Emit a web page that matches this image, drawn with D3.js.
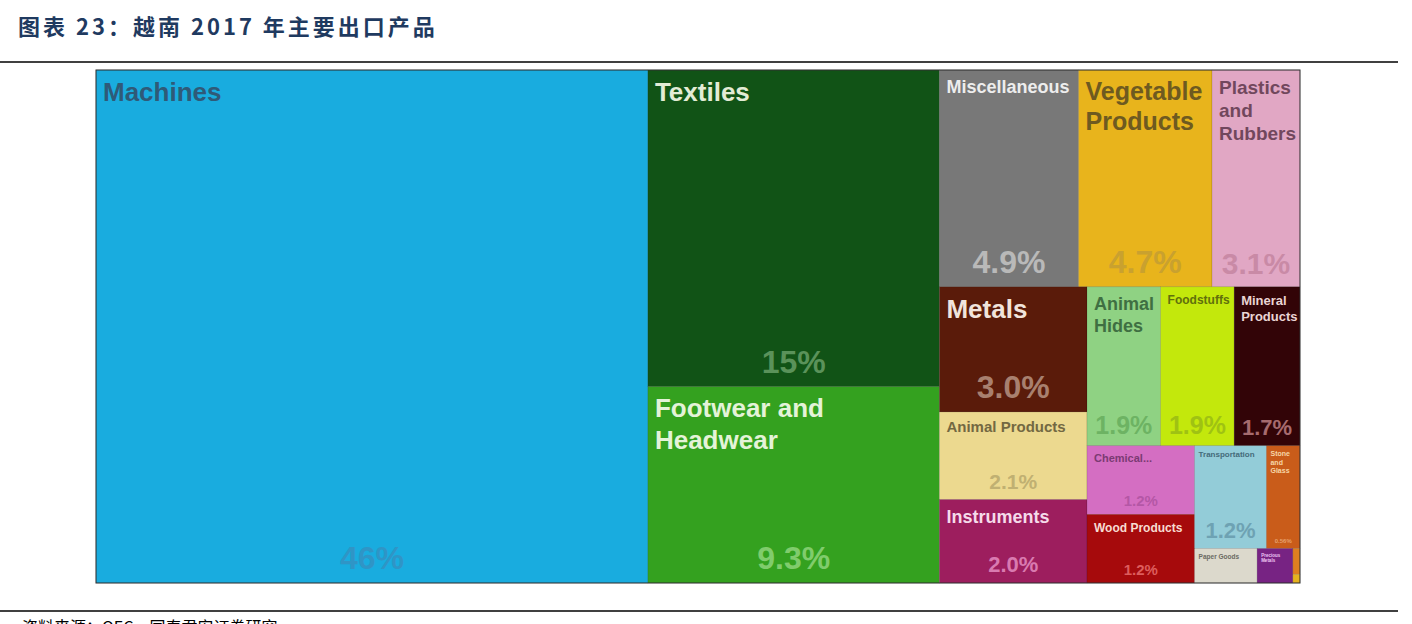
<!DOCTYPE html>
<html><head><meta charset="utf-8">
<script src="https://cdn.jsdelivr.net/npm/d3@7"></script>
<style>body{margin:0;background:#fff;} svg{display:block;}</style>
</head><body>
<svg id="c" width="1412" height="624"></svg>
<script>
// ---- data ----
const categories = ["Machines","Textiles","Footwear and Headwear","Miscellaneous","Vegetable Products",
  "Plastics and Rubbers","Metals","Animal Products","Instruments","Animal Hides","Foodstuffs",
  "Mineral Products","Chemical Products","Wood Products","Transportation","Stone and Glass",
  "Paper Goods","Precious Metals","Animal and Vegetable Bi-Products","Weapons"];
const shares = [46,15,9.3,4.9,4.7,3.1,3.0,2.1,2.0,1.9,1.9,1.7,1.2,1.2,1.2,0.56,0.35,0.2,0.03,0.01];
const titleText = "图表 23：越南 2017 年主要出口产品";
const sourceText = "资料来源：OEC，国泰君安证券研究";

// ---- styles (fill, label colour, pct colour, label size, pct size, display text) ----
const styles = {
  "Machines":{fill:"#19acdf",lc:"#2f5a78",pc:"#2f95c6",ls:26,ps:32},
  "Textiles":{fill:"#115316",lc:"#e3ecd5",pc:"#5a925a",ls:26,ps:32},
  "Footwear and Headwear":{fill:"#34a11f",lc:"#e4f3d8",pc:"#80cc6c",ls:26,ps:32},
  "Miscellaneous":{fill:"#787878",lc:"#ededed",pc:"#b9b9b9",ls:18,ps:32},
  "Vegetable Products":{fill:"#e8b41c",lc:"#6e5a20",pc:"#c9a12f",ls:25,ps:32},
  "Plastics and Rubbers":{fill:"#e1a7c4",lc:"#71475d",pc:"#c98aa6",ls:19,ps:30},
  "Metals":{fill:"#5a1b0a",lc:"#f1e4dc",pc:"#a8806f",ls:26,ps:32},
  "Animal Products":{fill:"#ecd98f",lc:"#736842",pc:"#c0b072",ls:15,ps:21},
  "Instruments":{fill:"#9d1e5e",lc:"#f5dbea",pc:"#d97ab0",ls:18,ps:22},
  "Animal Hides":{fill:"#8fd283",lc:"#3f6f42",pc:"#6db363",ls:18,ps:25},
  "Foodstuffs":{fill:"#c3e80c",lc:"#60700c",pc:"#9fc213",ls:12,ps:25},
  "Mineral Products":{fill:"#320407",lc:"#ead4d4",pc:"#a66b6e",ls:13,ps:22},
  "Chemical Products":{fill:"#d46ec2",lc:"#7b3b73",pc:"#b457a6",ls:11,ps:15,text:"Chemical..."},
  "Wood Products":{fill:"#a60a0c",lc:"#f7dcd2",pc:"#dd5d5c",ls:12,ps:15},
  "Transportation":{fill:"#93ccd8",lc:"#456b7a",pc:"#6ea2b3",ls:8,ps:22},
  "Stone and Glass":{fill:"#c95c1a",lc:"#f7d7a8",pc:"#e6a06d",ls:7,ps:6},
  "Paper Goods":{fill:"#dcd9cc",lc:"#6b6a62",ls:6.5},
  "Precious Metals":{fill:"#772383",lc:"#f0c8f5",ls:4.5},
  "Animal and Vegetable Bi-Products":{fill:"#df7f1f"},
  "Weapons":{fill:"#e6b21f"}
};

const svg = d3.select("#c");
const FONT = '"Liberation Sans", Arial, sans-serif';

// title + rules
svg.append("text").attr("x",18).attr("y",35).text(titleText)
  .attr("font-family",'"Noto Sans CJK SC", sans-serif').attr("font-weight",700)
  .attr("font-size",22).attr("letter-spacing",3).attr("fill","#1f3a60");
svg.append("line").attr("x1",0).attr("x2",1398).attr("y1",62).attr("y2",62).attr("stroke","#000").attr("stroke-width",1.5);
svg.append("line").attr("x1",0).attr("x2",1398).attr("y1",611).attr("y2",611).attr("stroke","#000").attr("stroke-width",1.5);
svg.append("text").attr("x",22).attr("y",633).text(sourceText)
  .attr("font-family",'"Noto Sans CJK SC", sans-serif').attr("font-size",16).attr("fill","#000");

// treemap
const W = 1204, H = 513, X0 = 96, Y0 = 70;
const root = d3.hierarchy({children: categories.map((c,i)=>({name:c, value:shares[i]}))})
  .sum(d=>d.value||0);
d3.treemap().size([W,H]).tile(d3.treemapSquarify)(root);

const g = svg.append("g").attr("transform",`translate(${X0},${Y0})`);
const fmt = d3.format(".2r");
const ctx = document.createElement("canvas").getContext("2d");
function wrap(text,size,maxW){
  ctx.font = `bold ${size}px ${FONT}`;
  const words = text.split(" "), lines=[]; let cur="";
  for(const w of words){
    const t = cur ? cur+" "+w : w;
    if(!cur || ctx.measureText(t).width <= maxW) cur = t; else { lines.push(cur); cur = w; }
  }
  if(cur) lines.push(cur);
  return lines;
}

const cell = g.selectAll("g.cell").data(root.leaves()).join("g").attr("class","cell");
cell.append("rect")
  .attr("x",d=>d.x0).attr("y",d=>d.y0)
  .attr("width",d=>d.x1-d.x0).attr("height",d=>d.y1-d.y0)
  .attr("fill",d=>styles[d.data.name].fill)
  .attr("stroke","rgba(0,0,0,0.18)").attr("stroke-width",0.6);

cell.each(function(d){
  const s = styles[d.data.name], sel = d3.select(this);
  const w = d.x1-d.x0;
  if(s.ls){
    const pad = s.ls < 10 ? 4 : 7;
    const lines = wrap(s.text || d.data.name, s.ls, w - pad*2 + 4);
    const t = sel.append("text").attr("font-family",FONT).attr("font-weight",700)
      .attr("font-size",s.ls).attr("fill",s.lc);
    lines.forEach((ln,i)=>{
      t.append("tspan").attr("x",d.x0+pad)
       .attr("y",d.y0 + (s.ls<10?4:6) + 0.95*s.ls + i*1.2*s.ls).text(ln);
    });
  }
  if(s.ps){
    sel.append("text").attr("font-family",FONT).attr("font-weight",700)
      .attr("font-size",s.ps).attr("fill",s.pc).attr("text-anchor","middle")
      .attr("x",(d.x0+d.x1)/2).attr("y",d.y1 - 0.3*s.ps - 4)
      .text(fmt(d.data.value)+"%");
  }
});

g.append("rect").attr("x",0).attr("y",0).attr("width",W).attr("height",H)
  .attr("fill","none").attr("stroke","#333").attr("stroke-width",1);
</script>
</body></html>
